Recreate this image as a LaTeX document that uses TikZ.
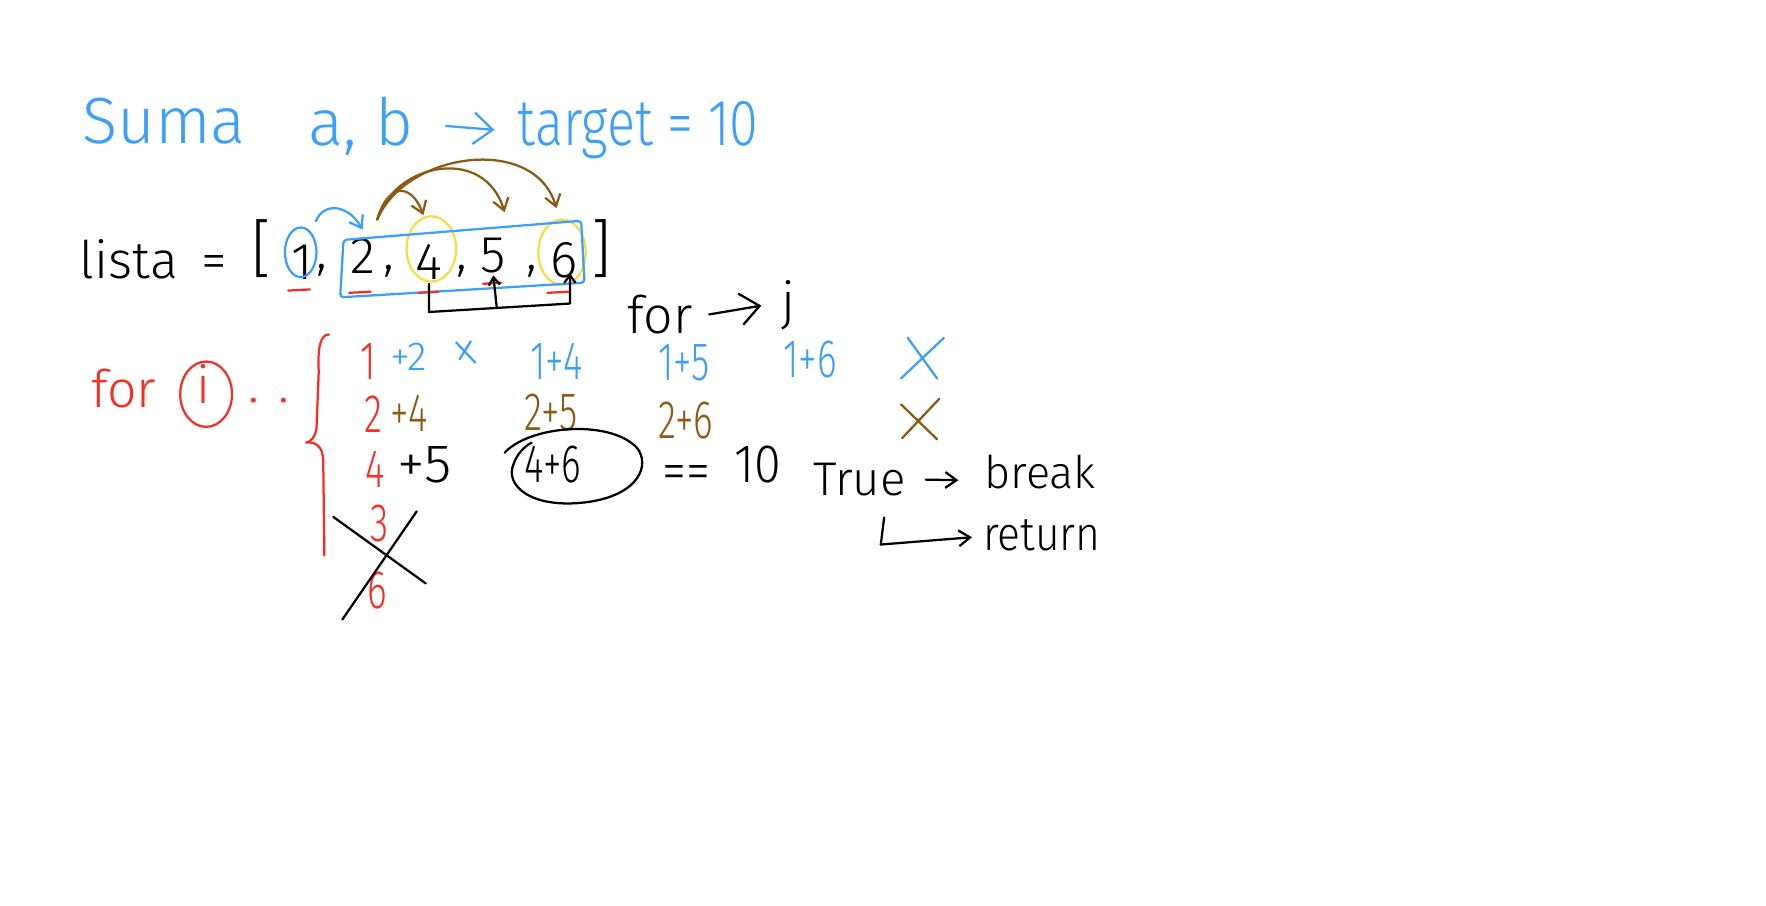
\documentclass[tikz,border=0pt]{standalone}
\usepackage{fontspec}
\setmainfont{Fira Sans}[UprightFont={* Light}]
\usetikzlibrary{arrows.meta}

\definecolor{penblue}{RGB}{60,160,250}
\definecolor{penred}{RGB}{250,45,35}
\definecolor{penbrown}{RGB}{140,90,20}
\definecolor{penyellow}{RGB}{250,220,70}

\begin{document}
\begin{tikzpicture}[
  x=1pt, y=-1pt,
  line width=2pt, line cap=round, line join=round,
  hand/.style={inner sep=0pt, anchor=base west},
  ctr/.style={inner sep=0pt, anchor=base},
  big/.style={font=\fontsize{58}{60}\selectfont},
  mid/.style={font=\fontsize{46}{48}\selectfont},
  word/.style={font=\fontsize{42}{44}\selectfont},
  sm/.style={font=\fontsize{48}{50}\selectfont, xscale=.69},
  sub/.style={font=\fontsize{36}{38}\selectfont},
  arr/.style={-{Straight Barb[length=10pt, width=14pt]}},
  arrbig/.style={-{Straight Barb[length=17pt, width=28pt]}},
  arrsmall/.style={-{Straight Barb[length=7pt, width=10pt]}}
]
\useasboundingbox[fill=white] (0,0) rectangle (1568,804);

% title
\node[hand, big, text=penblue] (suma) at (72,127) {Suma};
\node[hand, big, text=penblue] (ab) at (273,129) {a, b};
\node[hand, big, text=penblue, xscale=.8] (target) at (459,129) {target = 10};
\draw[penblue, arrbig] ([xshift=28]ab.east) -- ([xshift=-20]target.west);

% the list
\node[hand, mid] (lista) at (70,247) {lista};
\node[ctr, mid] (eq) at (190,247) {=};
\node[ctr, font=\fontsize{56}{56}\selectfont] (lb) at (232,240) {[};
\node[ctr, mid] (n1) at (268,248) {1};
\node[ctr, mid] (k1) at (286,238) {,};
\node[ctr, mid] (n2) at (322,243) {2};
\node[ctr, mid] (k2) at (345,239) {,};
\node[ctr, mid] (n4) at (381,248) {4};
\node[ctr, mid] (k3) at (410,239) {,};
\node[ctr, mid] (n5) at (438,242) {5};
\node[ctr, mid] (k4) at (472,239) {,};
\node[ctr, mid] (n6) at (501,246) {6};
\node[ctr, font=\fontsize{56}{56}\selectfont] (rb) at (534,240) {]};

\draw[penblue] (267,224) ellipse [x radius=14, y radius=22];
\draw[penyellow] (383,221) ellipse [x radius=22, y radius=29];
\draw[penyellow] (499,224) ellipse [x radius=21, y radius=29];
\draw[penblue, rounded corners=3] (305,213) -- (516,196) -- (519,251) -- (302,264) -- cycle;
\foreach \xa/\xb/\yy in {256/275/258, 310/329/260, 372/389/260, 429/445/252, 486/505/260}
  \draw[penred] (\xa,\yy) -- (\xb,\yy-1);

% i -> j arrows
\draw[penblue, arr] ([xshift=2,yshift=20]n1.north east) .. controls +(6,-16) and +(-14,-24) .. ([yshift=7]n2.north);
\coordinate (from2) at ([xshift=13,yshift=16]n2.north);
\draw[penbrown, arr] (from2) .. controls +(8,-30) and +(-12,-31) .. ([xshift=-5,yshift=25]n4.north);
\draw[penbrown, arr] (from2) .. controls +(15,-50) and +(-18,-60) .. ([xshift=10,yshift=22]n5.north);
\draw[penbrown, arr] (from2) .. controls +(25,-60) and +(-19,-66) .. ([xshift=-7,yshift=29]n6.north);
\draw[arrsmall] ([yshift=-3]n4.south) -- ++(0,25) -- ([xshift=5,yshift=-22]n6.south) -- ([xshift=5,yshift=5]n6.south);
\draw[arrsmall] ([xshift=3,yshift=-29]n5.south) -- ([yshift=-1]n5.south);

% outer loop
\node[hand, mid, text=penred] (fori) at (80,362) {for};
\node[ctr, mid, text=penred] (vi) at (181,358) {i};
\draw[penred] (183,350) ellipse [x radius=23, y radius=29];
\node[hand, mid, text=penred] (dots) at (220,357) {. .};
\draw[penred] (292,297) .. controls (284,297) and (282,310) .. (283,330) -- (281,380)
  .. controls (280,388) and (276,392) .. (272,393) .. controls (280,392) and (287,396) .. (287,410) -- (288,493);

% inner loop
\node[hand, mid] (forj) at (556,296) {for};
\node[hand, mid] (vj) at (693,284) {j};
\draw[arrbig] ([xshift=14]forj.east) -- ([xshift=-17]vj.west);

% pairs
\node[ctr, sm, text=penred] (r1) at (327,337) {1};
\node[hand, sub, text=penblue] (p12) at (346,329) {+2};
\draw[penblue] (405,304) -- (422,322) (418,303) -- (408,319);
\node[hand, sm, text=penblue] (p14) at (470,337) {1+4};
\node[hand, sm, text=penblue] (p15) at (584,338) {1+5};
\node[hand, sm, text=penblue] (p16) at (695,335) {1+6};
\draw[penblue] (806,300) -- (832,336) (838,300) -- (800,336);

\node[ctr, sm, text=penred] (r2) at (332,384) {2};
\node[hand, sm, text=penbrown] (p24) at (346,383) {+4};
\node[hand, sm, text=penbrown] (p25) at (465,382) {2+5};
\node[hand, sm, text=penbrown] (p26) at (584,389) {2+6};
\draw[penbrown] (800,359) -- (832,390) (834,354) -- (801,389);

\node[ctr, sm, text=penred] (r4) at (333,433) {4};
\node[hand, sm, xscale=1.5] (p45) at (352,428) {+5};
\node[hand, sm] (p46) at (465,428) {4+6};
\draw (448,402) .. controls (470,378) and (540,372) .. (565,397)
  .. controls (578,412) and (568,440) .. (520,446)
  .. controls (470,452) and (448,430) .. (456,412)
  .. controls (459,403) and (466,396) .. (472,393);
\node[hand, sm, xscale=1.3] (eqeq) at (587,435) {==};
\node[hand, sm, xscale=1.3] (ten) at (651,428) {10};

\node[ctr, sm, text=penred] (r3) at (337,481) {3};
\node[ctr, sm, text=penred] (r6) at (335,540) {6};
\draw (296,459) -- (378,518) (370,454) -- (304,550);

% result
\node[hand, word] (true) at (721,440) {True};
\node[hand, word, font=\fontsize{40}{42}\selectfont] (brk) at (873,434) {break};
\node[hand, word, xscale=.9] (ret) at (872,489) {return};
\draw[arr] ([xshift=17]true.east) -- ([xshift=-22,yshift=-7]brk.west);
\draw[arr] ([xshift=-20,yshift=-18]true.south east) -- ([xshift=-23,yshift=-42]true.south east) -- ([xshift=-9,yshift=12]ret.base west);

\end{tikzpicture}
\end{document}
